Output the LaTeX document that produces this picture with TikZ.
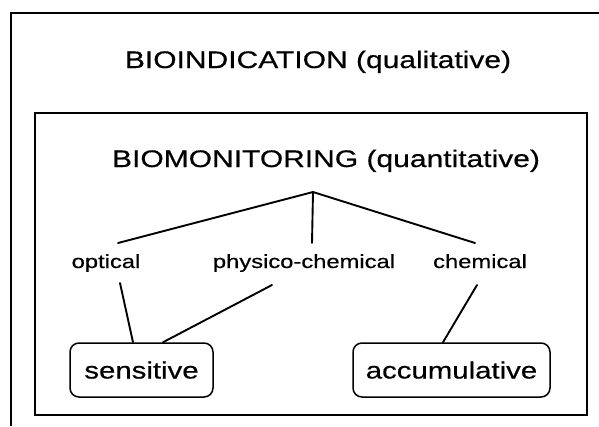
\documentclass[tikz,border=0pt]{standalone}
\usepackage{fontspec}
\usetikzlibrary{calc}
\newfontfamily\wideSans[FakeStretch=1.25,FakeBold=0.5]{Liberation Sans}
\begin{document}
\begin{tikzpicture}[x=1pt,y=-1pt,
  frame/.style={line width=1.3pt},
  branch/.style={line width=1.9pt, line cap=round},
  heading/.style={font=\wideSans\fontsize{24}{28}\selectfont, inner sep=0pt, anchor=base},
  method/.style={font=\wideSans\fontsize{19}{23}\selectfont, inner sep=0pt, anchor=base},
  kind/.style={draw, line width=1.5pt, rounded corners=9pt,
    font=\wideSans\fontsize{23.5}{28}\selectfont, text height=17pt, text depth=0pt,
    minimum height=54pt, inner sep=0pt}
]
\useasboundingbox (0,0) rectangle (599,426);

% outer frame (open at right and bottom) and inner frame
\draw[frame] (11,426) -- (11,13) -- (599,13);
\draw[frame] (35,113) rectangle (587,415);

% headings
\node[heading] (bioind) at (318,68) {BIOINDICATION (qualitative)};
\node[heading] (biomon) at (326,167) {BIOMONITORING (quantitative)};

% methods
\coordinate (apex) at (313,192);
\node[method] (optical) at (106,268) {optical};
\node[method] (physchem) at (304,268) {physico-chemical};
\node[method] (chemical) at (480,268) {chemical};

% kinds of monitors
\node[kind, minimum width=143pt] (sensitive) at (141.5,370) {sensitive};
\node[kind, minimum width=197pt] (accum) at (451.5,370) {accumulative};

% tree branches
\draw[branch] (apex) -- ($(optical.base)+(12,-25)$);
\draw[branch] (apex) -- ($(physchem.base)+(8,-25)$);
\draw[branch] (apex) -- ($(chemical.base)+(-5,-25)$);

% links to the monitor kinds
\draw[branch] ($(optical.base)+(14,15)$) -- ($(sensitive.north)+(-8.5,0)$);
\draw[branch] ($(physchem.base)+(-32,17)$) -- ($(sensitive.north)+(21.5,0)$);
\draw[branch] ($(chemical.base)+(-3,17)$) -- ($(accum.north)+(-8.5,0)$);
\end{tikzpicture}
\end{document}
